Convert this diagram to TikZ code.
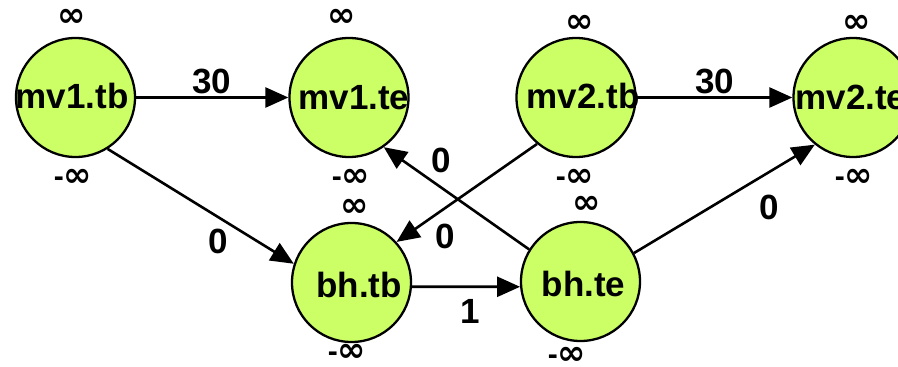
\documentclass[tikz,border=0pt]{standalone}
\usepackage{fontspec}
\setmainfont{Liberation Sans}
\newfontfamily\inffont{DejaVu Sans}
\usetikzlibrary{arrows.meta}
\definecolor{vgreen}{RGB}{204,255,102}
\newcommand{\infsym}{{\inffont\fontsize{34}{34}\selectfont\bfseries ∞}}
\begin{document}
\begin{tikzpicture}[x=1pt,y=-1pt,
  vtx/.style={circle, draw=black, line width=2.3pt, fill=vgreen, minimum size=119pt, inner sep=0pt},
  vname/.style={anchor=base, font=\fontsize{35}{35}\selectfont\bfseries, inner sep=0pt},
  bound/.style={font=\fontsize{30}{30}\selectfont\bfseries, inner sep=0pt},
  wt/.style={font=\fontsize{35}{35}\selectfont\bfseries, inner sep=0pt},
  arr/.style={line width=2.6pt, -{Triangle[length=23pt,width=20pt]}}
]
\useasboundingbox (0,0) rectangle (898,367);
\clip (0,0) rectangle (898,367);

% vertices
\node[vtx] (mvtb1) at (75.5,97.5) {};
\node[vtx] (mvte1) at (349,97.5) {};
\node[vtx] (mvtb2) at (576,97.5) {};
\node[vtx] (mvte2) at (853,97.5) {};
\node[vtx] (bhtb) at (351.5,282.5) {};
\node[vtx] (bhte) at (580.5,281.5) {};

% connectors
\draw[arr] (mvtb1.east) -- (mvte1.west);
\draw[arr] (mvtb2.east) -- (mvte2.west);
\draw[arr] (mvtb1.-58) -- (bhtb.162);
\draw[arr] (mvtb2.-130) -- (bhtb.42);
\draw[arr] (bhte.148) -- (mvte1.-55);
\draw[arr] (bhte.28) -- (mvte2.-129);
\draw[arr] (bhtb.-4) -- (bhte.185);

% vertex names
\node[vname] (tmvtb1) at (72,108) {mv1.tb};
\node[vname] (tmvte1) at (354,109) {mv1.te};
\node[vname] (tmvtb2) at (583,108) {mv2.tb};
\node[vname] (tmvte2) at (851,109) {mv2.te};
\node[vname] (tbhtb) at (359,297) {bh.tb};
\node[vname] (tbhte) at (583.5,296) {bh.te};

% bounds
\node[bound] (u1) at (72,18) {\infsym};
\node[bound] (d1) at (73,178) {-\infsym};
\node[bound] (u2) at (342,18) {\infsym};
\node[bound] (d2) at (351,178) {-\infsym};
\node[bound] (u3) at (580,24) {\infsym};
\node[bound] (d3) at (575,178) {-\infsym};
\node[bound] (u4) at (857,24) {\infsym};
\node[bound] (d4) at (854,178) {-\infsym};
\node[bound] (u5) at (355,208) {\infsym};
\node[bound] (d5) at (347,353) {-\infsym};
\node[bound] (u6) at (587,205) {\infsym};
\node[bound] (d6) at (567,356) {-\infsym};

% weights
\node[wt] (w1) at (212,81) {30};
\node[wt] (w2) at (715,81) {30};
\node[wt] (w3) at (218.5,241.5) {0};
\node[wt] (w4) at (445,236.5) {0};
\node[wt] (w5) at (441,160) {0};
\node[wt] (w6) at (769,207) {0};
\node[wt] (w7) at (470,311.5) {1};
\end{tikzpicture}
\end{document}
